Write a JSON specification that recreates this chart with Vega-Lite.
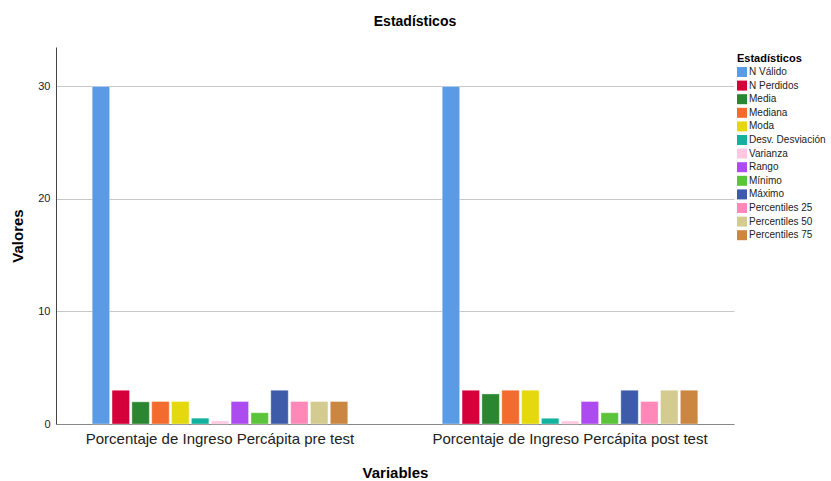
{
  "$schema": "https://vega.github.io/schema/vega-lite/v6.json",
  "autosize": {"type": "none"},
  "padding": {"left": 56, "top": 47, "right": 97, "bottom": 57},
  "width": 678,
  "height": 377,
  "background": "white",
  "config": {
    "font": "Liberation Sans",
    "view": {"stroke": null},
    "title": {"font": "Liberation Sans"}
  },
  "title": {"text": "Estadísticos", "fontSize": 14, "fontWeight": "bold", "color": "#000000", "offset": 18, "anchor": "middle", "dx": 20},
  "data": {
    "values": [
      {"variable": "Porcentaje de Ingreso Percápita pre test", "stat": "N Válido", "valor": 30},
      {"variable": "Porcentaje de Ingreso Percápita pre test", "stat": "N Perdidos", "valor": 3},
      {"variable": "Porcentaje de Ingreso Percápita pre test", "stat": "Media", "valor": 1.97},
      {"variable": "Porcentaje de Ingreso Percápita pre test", "stat": "Mediana", "valor": 2},
      {"variable": "Porcentaje de Ingreso Percápita pre test", "stat": "Moda", "valor": 2},
      {"variable": "Porcentaje de Ingreso Percápita pre test", "stat": "Desv. Desviación", "valor": 0.52},
      {"variable": "Porcentaje de Ingreso Percápita pre test", "stat": "Varianza", "valor": 0.27},
      {"variable": "Porcentaje de Ingreso Percápita pre test", "stat": "Rango", "valor": 2},
      {"variable": "Porcentaje de Ingreso Percápita pre test", "stat": "Mínimo", "valor": 1},
      {"variable": "Porcentaje de Ingreso Percápita pre test", "stat": "Máximo", "valor": 3},
      {"variable": "Porcentaje de Ingreso Percápita pre test", "stat": "Percentiles 25", "valor": 2},
      {"variable": "Porcentaje de Ingreso Percápita pre test", "stat": "Percentiles 50", "valor": 2},
      {"variable": "Porcentaje de Ingreso Percápita pre test", "stat": "Percentiles 75", "valor": 2},
      {"variable": "Porcentaje de Ingreso Percápita post test", "stat": "N Válido", "valor": 30},
      {"variable": "Porcentaje de Ingreso Percápita post test", "stat": "N Perdidos", "valor": 3},
      {"variable": "Porcentaje de Ingreso Percápita post test", "stat": "Media", "valor": 2.67},
      {"variable": "Porcentaje de Ingreso Percápita post test", "stat": "Mediana", "valor": 3},
      {"variable": "Porcentaje de Ingreso Percápita post test", "stat": "Moda", "valor": 3},
      {"variable": "Porcentaje de Ingreso Percápita post test", "stat": "Desv. Desviación", "valor": 0.51},
      {"variable": "Porcentaje de Ingreso Percápita post test", "stat": "Varianza", "valor": 0.26},
      {"variable": "Porcentaje de Ingreso Percápita post test", "stat": "Rango", "valor": 2},
      {"variable": "Porcentaje de Ingreso Percápita post test", "stat": "Mínimo", "valor": 1},
      {"variable": "Porcentaje de Ingreso Percápita post test", "stat": "Máximo", "valor": 3},
      {"variable": "Porcentaje de Ingreso Percápita post test", "stat": "Percentiles 25", "valor": 2},
      {"variable": "Porcentaje de Ingreso Percápita post test", "stat": "Percentiles 50", "valor": 3},
      {"variable": "Porcentaje de Ingreso Percápita post test", "stat": "Percentiles 75", "valor": 3}
    ]
  },
  "mark": {"type": "bar", "stroke": "#ffffff", "strokeWidth": 0.6, "strokeOpacity": 0.6},
  "encoding": {
    "x": {
      "field": "variable",
      "type": "nominal",
      "sort": ["Porcentaje de Ingreso Percápita pre test", "Porcentaje de Ingreso Percápita post test"],
      "scale": {"paddingInner": 0.263, "paddingOuter": 0.1},
      "axis": {
        "title": "Variables",
        "titleFontSize": 15,
        "titleFontWeight": "bold",
        "titleColor": "#000000",
        "titlePadding": 19,
        "labelAngle": 0,
        "labelFontSize": 15,
        "labelLimit": 500,
        "labelColor": "#222222",
        "labelPadding": 7,
        "ticks": false,
        "domainColor": "#888888",
        "domainWidth": 1.2
      }
    },
    "xOffset": {
      "field": "stat",
      "type": "nominal",
      "sort": ["N Válido", "N Perdidos", "Media", "Mediana", "Moda", "Desv. Desviación", "Varianza", "Rango", "Mínimo", "Máximo", "Percentiles 25", "Percentiles 50", "Percentiles 75"],
      "scale": {"paddingInner": 0.12, "paddingOuter": 0.06}
    },
    "y": {
      "field": "valor",
      "type": "quantitative",
      "scale": {"domain": [0, 33.5], "nice": false},
      "axis": {
        "title": "Valores",
        "titleFontSize": 15,
        "titleFontWeight": "bold",
        "titleColor": "#000000",
        "titlePadding": 12,
        "values": [0, 10, 20, 30],
        "labelFontSize": 11,
        "labelColor": "#222222",
        "labelPadding": 6,
        "ticks": false,
        "grid": true,
        "gridColor": "#c8c8c8",
        "gridWidth": 1,
        "domainColor": "#444444",
        "domainWidth": 1
      }
    },
    "color": {
      "field": "stat",
      "type": "nominal",
      "scale": {
        "domain": ["N Válido", "N Perdidos", "Media", "Mediana", "Moda", "Desv. Desviación", "Varianza", "Rango", "Mínimo", "Máximo", "Percentiles 25", "Percentiles 50", "Percentiles 75"],
        "range": ["#5b9be6", "#d5003a", "#2a8630", "#f36b2e", "#e6d80f", "#12b29e", "#ffc8e0", "#ac4cf0", "#5cc43a", "#3d5ba9", "#ff88b8", "#d3cb8f", "#cb8642"]
      },
      "legend": {
        "title": "Estadísticos",
        "orient": "none",
        "legendX": 681,
        "legendY": 6,
        "titleFontSize": 11,
        "titleFontWeight": "bold",
        "titleColor": "#000000",
        "titlePadding": 3,
        "labelFontSize": 10,
        "labelColor": "#222222",
        "labelOffset": 2,
        "symbolType": "square",
        "symbolSize": 100,
        "symbolStrokeWidth": 0,
        "rowPadding": 3.6,
        "labelLimit": 200
      }
    }
  }
}
